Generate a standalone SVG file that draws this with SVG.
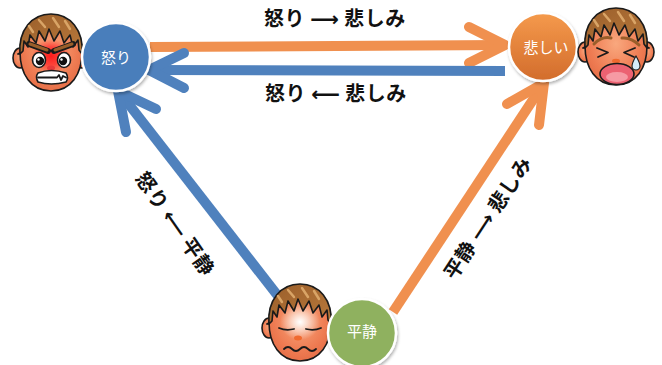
<svg xmlns="http://www.w3.org/2000/svg" xmlns:xlink="http://www.w3.org/1999/xlink" width="662" height="365" viewBox="0 0 662 365">
  <defs>
    <style>
      .shaft{fill:none;stroke-width:10;stroke-linecap:butt}
      .head{fill:none;stroke-width:10;stroke-linecap:round;stroke-linejoin:round}
      .blue{stroke:#4F81BD}
      .orange{stroke:#F0904F}
      .edge-label{font-family:"Noto Sans CJK JP","DejaVu Sans",sans-serif;font-size:20px;font-weight:bold;fill:#111;text-anchor:middle;letter-spacing:0.5px}
      .node-label{font-family:"Noto Sans CJK JP",sans-serif;font-size:15px;fill:#fff;text-anchor:middle}
      .ring{stroke:#fff;stroke-width:2.5;filter:url(#shadow)}
      .outline{stroke:#1a1a1a;stroke-width:1.6;stroke-linejoin:round}
      .line{fill:none;stroke:#1a1a1a;stroke-width:1.8;stroke-linecap:round;stroke-linejoin:round}
      .streak{fill:none;stroke:#D9A466;stroke-width:2.5;stroke-linecap:round}
    </style>
    <filter id="shadow" x="-20%" y="-20%" width="150%" height="150%">
      <feDropShadow dx="1" dy="2" stdDeviation="1.5" flood-color="#000" flood-opacity="0.3"/>
    </filter>
    <radialGradient id="skin" cx="0.5" cy="0.45" r="0.6">
      <stop offset="0" stop-color="#F9A87E"/>
      <stop offset="0.7" stop-color="#EE7B52"/>
      <stop offset="1" stop-color="#E46C45"/>
    </radialGradient>
    <radialGradient id="rage" cx="0.5" cy="0.5" r="0.5">
      <stop offset="0" stop-color="#FF1A1A" stop-opacity="1"/>
      <stop offset="0.55" stop-color="#FF2A2A" stop-opacity="0.75"/>
      <stop offset="1" stop-color="#FF3030" stop-opacity="0"/>
    </radialGradient>
    <radialGradient id="glow" cx="0.5" cy="0.5" r="0.5">
      <stop offset="0" stop-color="#fff" stop-opacity="1"/>
      <stop offset="0.5" stop-color="#fff" stop-opacity="0.5"/>
      <stop offset="1" stop-color="#fff" stop-opacity="0"/>
    </radialGradient>
    <linearGradient id="hair" x1="0" y1="0" x2="1" y2="1">
      <stop offset="0" stop-color="#9A5E2A"/>
      <stop offset="1" stop-color="#B97A3C"/>
    </linearGradient>
    <linearGradient id="sadFill" x1="0" y1="0" x2="0" y2="1">
      <stop offset="0" stop-color="#F59A4C"/>
      <stop offset="1" stop-color="#D26C2C"/>
    </linearGradient>
    <!-- shared head: ears and face skin -->
    <g id="skull">
      <ellipse cx="-31" cy="4" rx="7" ry="10" fill="url(#skin)" class="outline"/>
      <ellipse cx="31" cy="4" rx="7" ry="10" fill="url(#skin)" class="outline"/>
      <path d="M-33,0 q3,-2 4,4" class="line" stroke-width="1.2"/>
      <path d="M33,0 q-3,-2 -4,4" class="line" stroke-width="1.2"/>
      <path d="M0,-38 C20,-38 31,-22 31,-2 C31,20 20,37 0,37 C-20,37 -31,20 -31,-2 C-31,-22 -20,-38 0,-38 Z" fill="url(#skin)" class="outline"/>
    </g>
    <!-- shared spiky fringe -->
    <g id="fringe">
      <path d="M-31,0 C-33,-24 -19,-40 0,-40 C19,-40 33,-24 31,0 L28,-4 L27,-14 L22,-7 L19,-19 L13,-11 L9,-23 L3,-13 L-2,-25 L-6,-13 L-12,-23 L-15,-11 L-21,-19 L-23,-7 L-27,-13 L-28,-3 Z" fill="url(#hair)" class="outline"/>
      <path d="M-12,-34 L-6,-27 M2,-36 L8,-27 M14,-33 L19,-25 M-22,-28 L-18,-22" class="streak"/>
    </g>
  </defs>

  <rect width="662" height="365" fill="#fff"/>

  <g id="connectors">
    <!-- anger to sadness -->
    <path class="shaft orange" d="M150,47 L503,45"/>
    <path class="head orange" d="M469,27 L505,45 L469,63"/>
    <!-- sadness to anger -->
    <path class="shaft blue" d="M505,71 L152,70"/>
    <path class="head blue" d="M184,53 L149,70 L184,88"/>
    <!-- calm to anger -->
    <path class="shaft blue" d="M285,305 L120,93"/>
    <path class="head blue" d="M156,109 L118,91 L126,132"/>
    <!-- calm to sadness -->
    <path class="shaft orange" d="M393,312 L542,86"/>
    <path class="head orange" d="M507,104 L544,83 L539,125"/>
  </g>

  <g id="edge-labels">
    <text class="edge-label" x="335" y="26">怒り ⟶ 悲しみ</text>
    <text class="edge-label" x="336" y="101">怒り ⟵ 悲しみ</text>
    <text class="edge-label" transform="translate(175,224) rotate(55)" y="7">怒り ⟵ 平静</text>
    <text class="edge-label" transform="translate(488,218) rotate(-56.6)" y="7">平静 ⟶ 悲しみ</text>
  </g>

  <g id="node-anger">
    <g transform="translate(51,54)">
      <use href="#skull"/>
      <ellipse cx="0" cy="2" rx="19" ry="17" fill="url(#rage)"/>
      <use href="#fringe"/>
      <path d="M-22,-10 L-3,-3" stroke="#1a1a1a" stroke-width="6" stroke-linecap="round"/>
      <path d="M22,-10 L3,-3" stroke="#1a1a1a" stroke-width="6" stroke-linecap="round"/>
      <path d="M-21,-10 L-4,-4" stroke="#9A5E2A" stroke-width="3" stroke-linecap="round"/>
      <path d="M21,-10 L4,-4" stroke="#9A5E2A" stroke-width="3" stroke-linecap="round"/>
      <ellipse cx="-12" cy="6" rx="6.5" ry="7.5" fill="#fff" class="outline"/>
      <ellipse cx="13" cy="6" rx="6.5" ry="7.5" fill="#fff" class="outline"/>
      <circle cx="-11" cy="7" r="4.2" fill="#111"/>
      <circle cx="12" cy="7" r="4.2" fill="#111"/>
      <circle cx="-12.5" cy="5.5" r="1.2" fill="#fff"/>
      <circle cx="10.5" cy="5.5" r="1.2" fill="#fff"/>
      <ellipse cx="0" cy="14" rx="4" ry="2.5" fill="#E83A3A"/>
      <path d="M-13,19 Q0,14 15,19 Q18,24 15,28 Q0,32 -13,28 Q-16,23 -13,19 Z" fill="#fff" class="outline"/>
      <path d="M-13,23.5 L6,23.5 L8,21 L10,26 L12,22 L15,23.5" class="line" stroke-width="1.2"/>
    </g>
    <circle cx="116" cy="57" r="34" fill="#4A7EBB" class="ring"/>
    <text class="node-label" x="116" y="63">怒り</text>
  </g>

  <g id="node-sadness">
    <circle cx="543" cy="47" r="34" fill="url(#sadFill)" class="ring"/>
    <text class="node-label" x="546" y="53">悲しい</text>
    <g transform="translate(616,48)">
      <use href="#skull"/>
      <use href="#fringe"/>
      <path d="M-22,-4 Q-14,-12 -5,-10" stroke="#9A5E2A" stroke-width="3" fill="none" stroke-linecap="round"/>
      <path d="M6,-10 Q15,-11 23,-3" stroke="#9A5E2A" stroke-width="3" fill="none" stroke-linecap="round"/>
      <path d="M-19,0 L-8,4.5 L-18,9" class="line"/>
      <path d="M19,0 L8,4.5 L18,9" class="line"/>
      <path d="M20,8 Q24,15 24,18 A4,4 0 0 1 16,18 Q16,15 20,8 Z" fill="#D5ECFA" stroke="#1a1a1a" stroke-width="1.1"/>
      <ellipse cx="0" cy="13" rx="4" ry="2.2" fill="#F06A30"/>
      <ellipse cx="1" cy="26" rx="17" ry="10.5" fill="#EC6272" class="outline"/>
      <ellipse cx="1" cy="29" rx="11" ry="5" fill="#F69AA4"/>
    </g>
  </g>

  <g id="node-calm">
    <g transform="translate(300,324)">
      <use href="#skull"/>
      <ellipse cx="0" cy="-2" rx="20" ry="18" fill="url(#glow)"/>
      <use href="#fringe"/>
      <path d="M-21,4 Q-14,7 -6,5" class="line"/>
      <path d="M6,5 Q14,7 21,4" class="line"/>
      <ellipse cx="-2" cy="14" rx="4" ry="2.5" fill="#F06A30"/>
      <path d="M-16,25 q4,-4 8,0 t8,0 t8,0 t8,0" class="line" stroke-width="1.6"/>
    </g>
    <circle cx="362" cy="333" r="34" fill="#8FB15E" class="ring"/>
    <text class="node-label" x="362" y="337">平静</text>
  </g>
</svg>
